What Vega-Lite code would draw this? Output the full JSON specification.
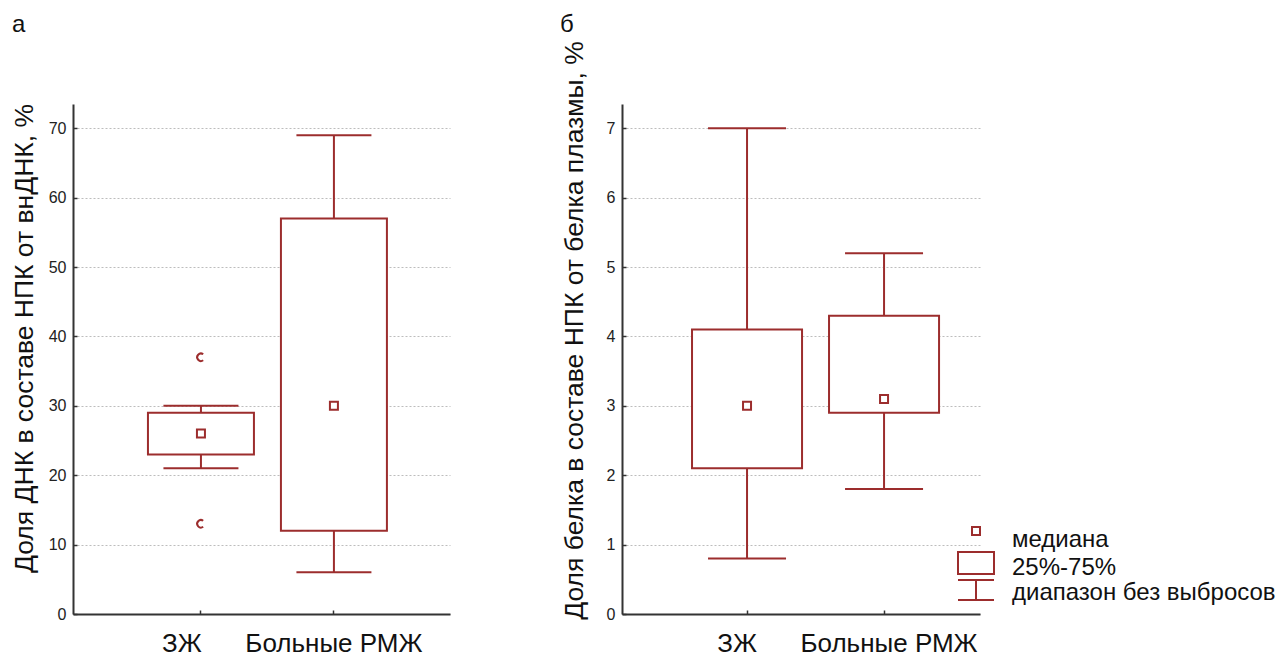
{
  "$schema": "https://vega.github.io/schema/vega-lite/v6.json",
  "background": "white",
  "padding": {"left": 10, "top": 12, "right": 0, "bottom": 0},
  "spacing": 110,
  "resolve": {"scale": {"shape": "independent"}, "legend": {"shape": "independent"}},
  "config": {
    "font": "Liberation Sans",
    "view": {"stroke": null},
    "axis": {
      "domainColor": "#333333",
      "domainWidth": 2,
      "tickColor": "#333333",
      "tickWidth": 1.5,
      "tickSize": -4,
      "labelFont": "Liberation Sans",
      "titleFont": "Liberation Sans",
      "titleFontWeight": "normal",
      "titleColor": "#111111",
      "labelColor": "#222222"
    },
    "title": {"font": "Liberation Sans", "fontWeight": "normal", "fontSize": 24, "color": "#111111"}
  },
  "datasets": {
    "dna": [
      {"group": "ЗЖ", "lower": 21, "q1": 23, "median": 26, "q3": 29, "upper": 30},
      {"group": "Больные РМЖ", "lower": 6, "q1": 12, "median": 30, "q3": 57, "upper": 69}
    ],
    "dnaOutliers": [
      {"group": "ЗЖ", "value": 37},
      {"group": "ЗЖ", "value": 13}
    ],
    "protein": [
      {"group": "ЗЖ", "lower": 0.8, "q1": 2.1, "median": 3.0, "q3": 4.1, "upper": 7.0},
      {"group": "Больные РМЖ", "lower": 1.8, "q1": 2.9, "median": 3.1, "q3": 4.3, "upper": 5.2}
    ],
    "legendItems": [
      {"item": "медиана"},
      {"item": "25%-75%"},
      {"item": "диапазон без выбросов"}
    ]
  },
  "hconcat": [
    {
      "width": 377,
      "height": 510,
      "title": {"text": "а", "anchor": "start", "frame": "group", "dx": -61, "offset": 47, "baseline": "alphabetic"},
      "encoding": {
        "x": {
          "field": "group", "type": "nominal",
          "scale": {"domain": ["ЗЖ", "Больные РМЖ"], "paddingInner": 0.203, "paddingOuter": 0.519, "align": 0.543},
          "axis": {
            "title": null, "labelAngle": 0, "labelFontSize": 26, "labelColor": "#111111", "labelPadding": 20,
            "grid": false,
            "labelOffset": {"expr": "datum.value === 'ЗЖ' ? -19 : 0"}
          }
        }
      },
      "layer": [
        {
          "data": {"name": "dna"},
          "mark": {"type": "rule", "color": "#9c2d2d", "strokeWidth": 2},
          "encoding": {
            "y": {
              "field": "lower", "type": "quantitative",
              "scale": {"domain": [0, 73.5], "nice": false},
              "axis": {
                "title": "Доля ДНК в составе НПК от внДНК, %",
                "titleFontSize": 26.5, "titleX": -41, "titleY": 234, "titleBaseline": "alphabetic", "titleAlign": "center", "titleAnchor": null,
                "values": [0, 10, 20, 30, 40, 50, 60, 70], "format": "d",
                "labelFontSize": 16, "labelPadding": 11,
                "grid": true, "gridDash": [2, 2], "gridColor": "#bdbdbd", "gridWidth": 1
              }
            },
            "y2": {"field": "upper"}
          }
        },
        {
          "data": {"name": "dna"},
          "mark": {"type": "bar", "fill": "white", "stroke": "#9c2d2d", "strokeWidth": 2},
          "encoding": {"y": {"field": "q1", "type": "quantitative"}, "y2": {"field": "q3"}}
        },
        {
          "data": {"name": "dna"},
          "mark": {"type": "tick", "color": "#9c2d2d", "size": 75, "thickness": 2, "opacity": 1},
          "encoding": {"y": {"field": "lower", "type": "quantitative"}}
        },
        {
          "data": {"name": "dna"},
          "mark": {"type": "tick", "color": "#9c2d2d", "size": 75, "thickness": 2, "opacity": 1},
          "encoding": {"y": {"field": "upper", "type": "quantitative"}}
        },
        {
          "data": {"name": "dna"},
          "mark": {"type": "point", "shape": "square", "size": 64, "filled": false, "color": "#9c2d2d", "strokeWidth": 2, "opacity": 1},
          "encoding": {"y": {"field": "median", "type": "quantitative"}}
        },
        {
          "data": {"name": "dnaOutliers"},
          "mark": {"type": "point", "shape": "M0.6,-0.8A1,1,0,1,0,0.6,0.8", "size": 56, "filled": false, "color": "#9c2d2d", "strokeWidth": 2, "opacity": 1},
          "encoding": {"y": {"field": "value", "type": "quantitative"}}
        }
      ]
    },
    {
      "width": 358,
      "height": 510,
      "title": {"text": "б", "anchor": "start", "frame": "group", "dx": -62, "offset": -15, "baseline": "alphabetic"},
      "encoding": {
        "x": {
          "field": "group", "type": "nominal",
          "scale": {"domain": ["ЗЖ", "Больные РМЖ"], "paddingInner": 0.197, "paddingOuter": 0.405, "align": 0.631},
          "axis": {
            "title": null, "labelAngle": 0, "labelFontSize": 26, "labelColor": "#111111", "labelPadding": 20,
            "grid": false,
            "labelOffset": {"expr": "datum.value === 'ЗЖ' ? -10 : 5"}
          }
        }
      },
      "layer": [
        {
          "data": {"name": "protein"},
          "mark": {"type": "rule", "color": "#9c2d2d", "strokeWidth": 2},
          "encoding": {
            "y": {
              "field": "lower", "type": "quantitative",
              "scale": {"domain": [0, 7.35], "nice": false},
              "axis": {
                "title": "Доля белка в составе НПК от белка плазмы, %",
                "titleFontSize": 26.5, "titleX": -40, "titleY": 226, "titleBaseline": "alphabetic", "titleAlign": "center", "titleAnchor": null,
                "values": [0, 1, 2, 3, 4, 5, 6, 7], "format": "d",
                "labelFontSize": 16, "labelPadding": 11,
                "grid": true, "gridDash": [2, 2], "gridColor": "#bdbdbd", "gridWidth": 1
              }
            },
            "y2": {"field": "upper"}
          }
        },
        {
          "data": {"name": "protein"},
          "mark": {"type": "bar", "fill": "white", "stroke": "#9c2d2d", "strokeWidth": 2},
          "encoding": {"y": {"field": "q1", "type": "quantitative"}, "y2": {"field": "q3"}}
        },
        {
          "data": {"name": "protein"},
          "mark": {"type": "tick", "color": "#9c2d2d", "size": 78, "thickness": 2, "opacity": 1},
          "encoding": {"y": {"field": "lower", "type": "quantitative"}}
        },
        {
          "data": {"name": "protein"},
          "mark": {"type": "tick", "color": "#9c2d2d", "size": 78, "thickness": 2, "opacity": 1},
          "encoding": {"y": {"field": "upper", "type": "quantitative"}}
        },
        {
          "data": {"name": "protein"},
          "mark": {"type": "point", "shape": "square", "size": 64, "filled": false, "color": "#9c2d2d", "strokeWidth": 2, "opacity": 1},
          "encoding": {"y": {"field": "median", "type": "quantitative"}}
        },
        {
          "data": {"name": "legendItems"},
          "mark": {"type": "point", "filled": false, "color": "#9c2d2d", "opacity": 0},
          "encoding": {
            "shape": {
              "field": "item", "type": "nominal",
              "scale": {
                "domain": ["медиана", "25%-75%", "диапазон без выбросов"],
                "range": [
                  "M-0.333,-1.083H0.333V-0.417H-0.333Z",
                  "M-1.5,-1.333H1.5V0.5H-1.5Z",
                  "M-1.5,-1.083H1.5M0,-1.083V0.583M-1.5,0.583H1.5"
                ]
              },
              "legend": {
                "title": null, "orient": "none", "legendX": 341, "legendY": 423, "padding": 0,
                "symbolSize": 576, "symbolStrokeColor": "#9c2d2d", "symbolFillColor": "transparent",
                "symbolStrokeWidth": 2, "symbolOpacity": 1,
                "labelFontSize": 24, "labelColor": "#111111", "labelOffset": 23, "rowPadding": -4,
                "labelLimit": 0,
                "labelFont": "Liberation Sans"
              }
            }
          }
        }
      ]
    }
  ]
}
